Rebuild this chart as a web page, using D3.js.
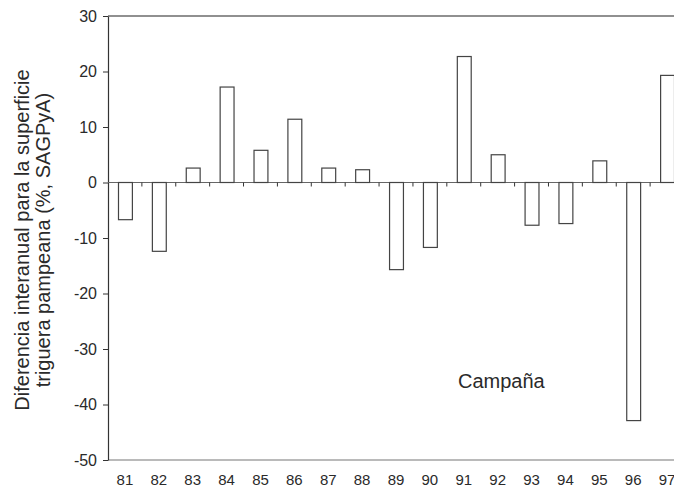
<!DOCTYPE html>
<html>
<head>
<meta charset="utf-8">
<script src="https://cdn.jsdelivr.net/npm/d3@7"></script>
<style>
  body { margin: 0; background: #fff; }
  svg text { font-family: "Liberation Sans", Arial, sans-serif; fill: #2a2a2a; }
</style>
</head>
<body>
<svg width="674" height="491"></svg>
<script>
var campaigns = ['81', '82', '83', '84', '85', '86', '87', '88', '89', '90', '91', '92', '93', '94', '95', '96', '97'];
var diffs = [-6.7, -12.4, 2.6, 17.2, 5.8, 11.4, 2.6, 2.3, -15.7, -11.7, 22.7, 5.0, -7.7, -7.4, 3.9, -42.9, 19.3];
var yTicks = [30, 20, 10, 0, -10, -20, -30, -40, -50];

var canvas = getCanvas();
var axes = getAxes(canvas);
addAxes(canvas, axes);
addBars(canvas, axes);
addLabels(canvas, axes);

function getCanvas() {
    var margin = {top: 16, left: 108};
    var svg = d3.select('svg').append('g').attr('transform', 'translate(' + margin.left + ',' + margin.top + ')');
    svg.width = 576;   // runs past the right edge, like the original
    svg.height = 444;
    return svg;
}

function getAxes(canvas) {
    return {
        x: d3.scaleBand().domain(campaigns).range([0, canvas.width]).paddingInner(0.59).paddingOuter(0.295),
        y: d3.scaleLinear().domain([-50, 30]).range([canvas.height, 0])
    };
}

function addAxes(canvas, axes) {
    // frame: top and bottom lines
    canvas.append('line').attr('x1', 0).attr('x2', canvas.width).attr('y1', 0).attr('y2', 0)
        .attr('stroke', '#222').attr('stroke-width', 1.2);
    canvas.append('line').attr('x1', 0).attr('x2', canvas.width).attr('y1', canvas.height).attr('y2', canvas.height)
        .attr('stroke', '#777').attr('stroke-width', 1.2);

    var yAxis = canvas.append('g')
        .call(d3.axisLeft(axes.y).tickValues(yTicks).tickFormat(function(d) { return String(d); })
            .tickSize(5).tickPadding(6).tickSizeOuter(0));
    yAxis.select('.domain').attr('stroke', '#333').attr('stroke-width', 1.2);
    yAxis.selectAll('.tick line').attr('stroke', '#333');
    yAxis.selectAll('.tick text').style('font-size', '16px').attr('fill', '#2a2a2a');

    // zero line with ticks between campaigns
    var step = axes.x.step();
    var bounds = d3.range(1, campaigns.length + 1).map(function(i) { return i * step; });
    canvas.append('line').attr('x1', 0).attr('x2', canvas.width)
        .attr('y1', axes.y(0)).attr('y2', axes.y(0)).attr('stroke', '#666');
    canvas.selectAll('line.zt').data(bounds).enter().append('line').attr('class', 'zt')
        .attr('x1', function(d) { return d; }).attr('x2', function(d) { return d; })
        .attr('y1', axes.y(0)).attr('y2', axes.y(0) + 4)
        .attr('stroke', '#333');

    canvas.selectAll('text.xl').data(campaigns).enter().append('text').attr('class', 'xl')
        .attr('x', function(d) { return axes.x(d) + axes.x.bandwidth() / 2; })
        .attr('y', canvas.height + 25)
        .style('text-anchor', 'middle')
        .style('font-size', '15px')
        .text(function(d) { return d; });
}

function addBars(canvas, axes) {
    canvas.selectAll('rect.bar').data(diffs).enter().append('rect').attr('class', 'bar')
        .attr('x', function(d, i) { return axes.x(campaigns[i]) + 0.5; })
        .attr('width', axes.x.bandwidth())
        .attr('y', function(d) { return axes.y(Math.max(0, d)); })
        .attr('height', function(d) { return Math.abs(axes.y(d) - axes.y(0)); })
        .attr('fill', '#fff')
        .attr('stroke', '#444')
        .attr('stroke-width', 1.2);
}

function addLabels(canvas, axes) {
    canvas.append('text')
        .attr('x', 350).attr('y', 372)
        .style('font-size', '20px')
        .text('Campaña');

    var label = canvas.append('text')
        .attr('transform', 'translate(' + (-108 + 22) + ',' + (240 - 16) + ') rotate(-90)')
        .style('text-anchor', 'middle')
        .style('font-size', '20px');
    label.append('tspan').attr('x', 0).attr('dy', '0.35em').text('Diferencia interanual para la superficie');
    label.append('tspan').attr('x', 0).attr('dy', '1.07em').text('triguera pampeana (%, SAGPyA)');
}
</script>
</body>
</html>
